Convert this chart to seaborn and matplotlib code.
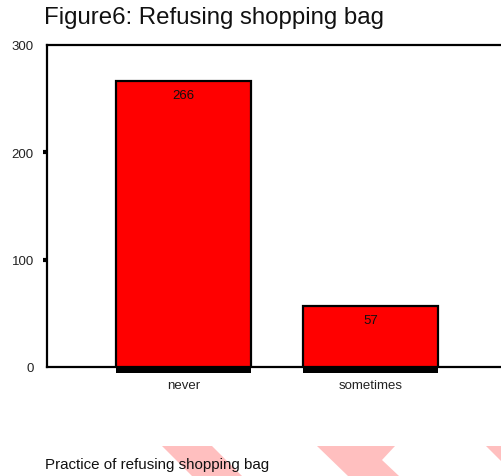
import matplotlib
matplotlib.use("Agg")
import matplotlib.pyplot as plt
from matplotlib.patches import Polygon
from matplotlib.ticker import FixedLocator
import seaborn as sns
import pandas as pd

# ---- data ----
categories = ["never", "sometimes"]
counts = [266, 57]
y_ticks = [0, 100, 200, 300]
title_text = "Figure6: Refusing shopping bag"
xlabel_text = "Practice of refusing shopping bag"

sns.set_style("white")
plt.rcParams['font.family'] = ['Liberation Sans', 'DejaVu Sans']

W, H = 501, 477
fig = plt.figure(figsize=(W / 100, H / 100), dpi=100)

# watermark chevrons (decoration, figure pixel coords)
def px(pts):
    return [(x / W, 1 - y / H) for x, y in pts]

wm_color = "#FFBFBF"
for shape in [
    [(162, 447), (212, 447), (242, 477), (192, 477)],
    [(317, 447), (395, 447), (382, 461), (399, 477), (348, 477)],
    [(486, 447), (501, 447), (501, 462)],
]:
    fig.add_artist(Polygon(px(shape), closed=True, transform=fig.transFigure,
                           facecolor=wm_color, edgecolor="none", zorder=0))

ax = fig.add_axes([47 / W, 109 / H, 1 - 47 / W + 0.002, (368 - 46) / H])

df = pd.DataFrame({"cat": categories, "n": counts})
sns.barplot(data=df, x="cat", y="n", ax=ax, color="#FF0000", saturation=1,
            width=0.722, edgecolor="black", linewidth=1.6, zorder=3)

# thick black base under each bar
shadow_depth = 6.5
ax.bar(range(len(categories)), [-shadow_depth] * len(categories), bottom=1.2,
       width=0.722, color="black", edgecolor="none", clip_on=False, zorder=4)

for i, v in enumerate(counts):
    ax.annotate(str(v), xy=(i, v), xytext=(0, -10), textcoords="offset points",
                ha="center", va="center", fontsize=9.5, color="#111111", zorder=5)

ax.set_xlim(-0.727, 1.70)
ax.set_ylim(0, 300)
ax.set_yticks(y_ticks)
ax.set_yticklabels([str(t) for t in y_ticks])
ax.yaxis.remove_overlapping_locs = False
ax.yaxis.set_minor_locator(FixedLocator([100, 200]))
ax.tick_params(axis="y", which="major", length=0, pad=9.5, labelsize=9.5,
               labelcolor="#222222")
ax.tick_params(axis="y", which="minor", left=True, length=3.2, width=3,
               color="black", direction="out")
ax.tick_params(axis="x", length=0, pad=8.5, labelsize=9.5, labelcolor="#222222")

ax.set_xlabel("")
ax.set_ylabel("")
for side in ["left", "top", "bottom"]:
    ax.spines[side].set_visible(True)
    ax.spines[side].set_color("black")
    ax.spines[side].set_linewidth(1.6)
ax.spines["right"].set_visible(False)

fig.text(44 / W, 1 - 18 / H, title_text, ha="left", va="center",
         fontsize=17.3, color="#111111")
fig.text(45 / W, 1 - 465 / H, xlabel_text, ha="left", va="center",
         fontsize=10.9, color="#111111", zorder=5)

fig.savefig("out.png", dpi=100)
